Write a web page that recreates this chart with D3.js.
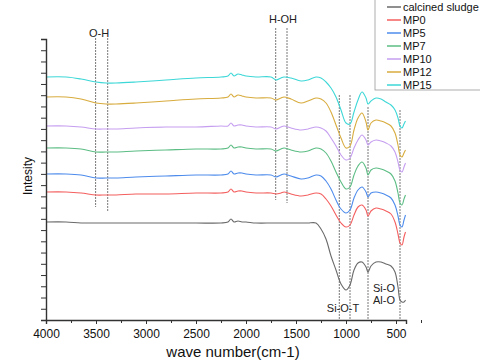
<!DOCTYPE html>
<html>
<head>
<meta charset="utf-8">
<script src="https://cdn.jsdelivr.net/npm/d3@7"></script>
<style>
  body { margin: 0; background: #fff; }
  text { font-family: 'Liberation Sans', Arial, sans-serif; }
</style>
</head>
<body>
<div id="chart"></div>
<script>
// wavenumbers (cm-1) shared by every spectrum
const waves = [4000, 3800, 3650, 3500, 3400, 3300, 3100, 2800, 2500, 2250,
  2180, 2150, 2120, 2080, 2040, 2000, 1900, 1750, 1700, 1650,
  1620, 1550, 1450, 1380, 1300, 1250, 1200, 1150, 1100, 1050,
  1000, 960, 920, 880, 840, 800, 780, 750, 700, 650,
  600, 550, 510, 480, 460, 440, 420, 405]

// intensity (a.u., offset spectra)
const sludge = [98, 98, 97, 97, 97, 97, 97, 97, 97, 97,
  98, 101, 98, 99, 98, 98, 97, 97, 97, 97,
  97, 97, 97, 97, 97, 91, 81, 64, 50, 36,
  30, 35, 50, 57, 58, 53, 48, 54, 58, 58,
  56, 54, 48, 33, 20, 18, 18, 20]
const mp0 = [128, 128, 127, 125, 125, 125, 126, 126, 127, 127,
  128, 131, 128, 129, 129, 128, 127, 127, 126, 127,
  128, 126, 124, 125, 127, 126, 121, 114, 105, 97,
  93, 95, 105, 113, 115, 110, 104, 109, 112, 111,
  109, 106, 98, 86, 77, 75, 83, 88]
const mp5 = [146, 146, 145, 142, 142, 142, 143, 144, 145, 145,
  146, 149, 146, 147, 147, 146, 145, 145, 143, 145,
  146, 144, 141, 142, 145, 144, 139, 131, 120, 111,
  107, 110, 122, 130, 133, 128, 123, 127, 128, 127,
  125, 122, 115, 104, 95, 93, 100, 105]
const mp7 = [172, 172, 171, 168, 168, 168, 169, 170, 171, 171,
  172, 175, 172, 173, 173, 172, 171, 171, 169, 171,
  172, 170, 168, 169, 172, 171, 167, 159, 148, 138,
  131, 133, 145, 154, 158, 152, 145, 150, 152, 151,
  149, 146, 139, 127, 117, 115, 121, 125]
const mp10 = [194, 194, 193, 191, 191, 191, 192, 193, 193, 194,
  194, 197, 194, 195, 195, 194, 193, 193, 191, 193,
  194, 192, 190, 191, 193, 192, 189, 182, 174, 165,
  160, 162, 172, 180, 185, 180, 175, 178, 180, 179,
  177, 174, 168, 158, 150, 148, 153, 157]
const mp12 = [223, 223, 221, 217, 216, 216, 217, 219, 221, 222,
  223, 226, 223, 225, 224, 223, 222, 222, 220, 222,
  223, 221, 217, 219, 222, 221, 217, 208, 195, 182,
  172, 174, 190, 202, 207, 198, 190, 197, 200, 199,
  197, 194, 187, 175, 165, 163, 167, 170]
const mp15 = [243, 243, 241, 238, 237, 237, 238, 240, 242, 243,
  244, 247, 244, 246, 245, 244, 243, 243, 240, 242,
  243, 242, 239, 240, 243, 242, 238, 232, 223, 210,
  197, 196, 208, 220, 228, 222, 216, 219, 222, 221,
  218, 215, 210, 202, 194, 192, 196, 199]

const seriesNames = ['calcined sludge', 'MP0', 'MP5', 'MP7', 'MP10', 'MP12', 'MP15']
const seriesValues = [sludge, mp0, mp5, mp7, mp10, mp12, mp15]
const colors = ['#6a6a6a', '#f45f5f', '#4e8cec', '#5cbd84', '#c59ef0', '#d8ac3e', '#3dd7d7']

const xTicks = [4000, 3500, 3000, 2500, 2000, 1500, 1000, 500]

// dashed marker lines: wavenumber, top and bottom intensity
const markers = [
  { w: 3504, top: 282, bottom: 113 },
  { w: 3383, top: 282, bottom: 108 },
  { w: 1703, top: 292, bottom: 120 },
  { w: 1590, top: 292, bottom: 117 },
  { w: 1067, top: 225, bottom: 0 },
  { w: 960, top: 225, bottom: 0 },
  { w: 780, top: 213, bottom: 0 },
  { w: 460, top: 210, bottom: 0 }
]
const labels = [
  { text: 'O-H', w: 3470, v: 283 },
  { text: 'H-OH', w: 1630, v: 297 },
  { text: 'Si-O-T', w: 1030, v: 8 },
  { text: 'Si-O', w: 620, v: 28 },
  { text: 'Al-O', w: 620, v: 16 }
]

const margin = { top: 39, left: 46, right: 74, bottom: 43 }
const width = 480 - margin.left - margin.right
const height = 363 - margin.top - margin.bottom

const svg = d3
  .select('#chart')
  .append('svg')
  .attr('width', 480)
  .attr('height', 363)

const g = svg
  .append('g')
  .attr('transform', 'translate(' + margin.left + ',' + margin.top + ')')

const x = d3.scaleLinear().domain([4000, 400]).range([0, width])
const y = d3.scaleLinear().domain([0, 281]).range([height, 0])

const line = d3
  .line()
  .x((d, i) => x(waves[i]))
  .y(d => y(d))
  .curve(d3.curveCatmullRom.alpha(0.5))

// marker lines
g.selectAll('.marker')
  .data(markers)
  .enter()
  .append('line')
  .attr('class', 'marker')
  .attr('x1', d => x(d.w))
  .attr('x2', d => x(d.w))
  .attr('y1', d => y(d.top))
  .attr('y2', d => y(d.bottom))
  .attr('stroke', '#555')
  .attr('stroke-width', 0.8)
  .attr('stroke-dasharray', '2,1')

g.selectAll('.spectrum')
  .data(seriesValues)
  .enter()
  .append('path')
  .attr('class', 'spectrum')
  .attr('d', d => line(d))
  .attr('fill', 'none')
  .attr('stroke', (d, i) => colors[i])
  .attr('stroke-width', 1.1)

g.selectAll('.peak-label')
  .data(labels)
  .enter()
  .append('text')
  .attr('class', 'peak-label')
  .attr('x', d => x(d.w))
  .attr('y', d => y(d.v))
  .attr('text-anchor', 'middle')
  .attr('font-size', 11)
  .attr('fill', '#222')
  .text(d => d.text)

// axes
const xAxis = d3
  .axisBottom(x)
  .tickValues(xTicks)
  .tickSize(4)
  .tickFormat(d3.format('d'))
g.append('g')
  .attr('class', 'x-axis')
  .attr('transform', 'translate(0,' + height + ')')
  .call(xAxis)

g.append('g')
  .attr('transform', 'translate(0,' + height + ')')
  .call(
    d3.axisBottom(x)
      .tickValues(xTicks.map(d => d - 250))
      .tickSize(3)
      .tickFormat('')
  )
  .select('.domain')
  .remove()

const yAxis = d3
  .axisLeft(y)
  .tickValues(d3.range(0, 26).map(i => i * 281 / 25))
  .tickSize(5)
  .tickFormat('')
g.append('g')
  .attr('class', 'y-axis')
  .call(yAxis)

svg.selectAll('.domain').attr('stroke', '#333').attr('stroke-width', 1.4)
svg.selectAll('.tick line').attr('stroke', '#333')
svg.selectAll('.x-axis text')
  .attr('font-size', 12)
  .attr('fill', '#111')
  .attr('dy', '0.9em')

svg.append('text')
  .attr('x', 233)
  .attr('y', 357)
  .attr('text-anchor', 'middle')
  .attr('font-size', 15)
  .attr('fill', '#111')
  .text('wave number(cm-1)')

svg.append('text')
  .attr('transform', 'translate(32,176) rotate(-90)')
  .attr('text-anchor', 'middle')
  .attr('font-size', 12)
  .attr('fill', '#111')
  .text('Intesity')

// legend
const legend = svg.append('g').attr('transform', 'translate(375,0)')
legend.append('rect')
  .attr('x', 0)
  .attr('y', -1)
  .attr('width', 110)
  .attr('height', 91)
  .attr('fill', '#fff')
  .attr('stroke', '#999')
  .attr('stroke-width', 0.8)

const items = legend.selectAll('.item')
  .data(seriesNames)
  .enter()
  .append('g')
  .attr('class', 'item')
  .attr('transform', (d, i) => 'translate(0,' + (7 + i * 13) + ')')

items.append('line')
  .attr('x1', 12)
  .attr('x2', 26)
  .attr('stroke', (d, i) => colors[i])
  .attr('stroke-width', 1.5)

items.append('text')
  .attr('x', 28)
  .attr('dy', '0.35em')
  .attr('font-size', 11)
  .attr('fill', '#111')
  .text(d => d)
</script>
</body>
</html>
